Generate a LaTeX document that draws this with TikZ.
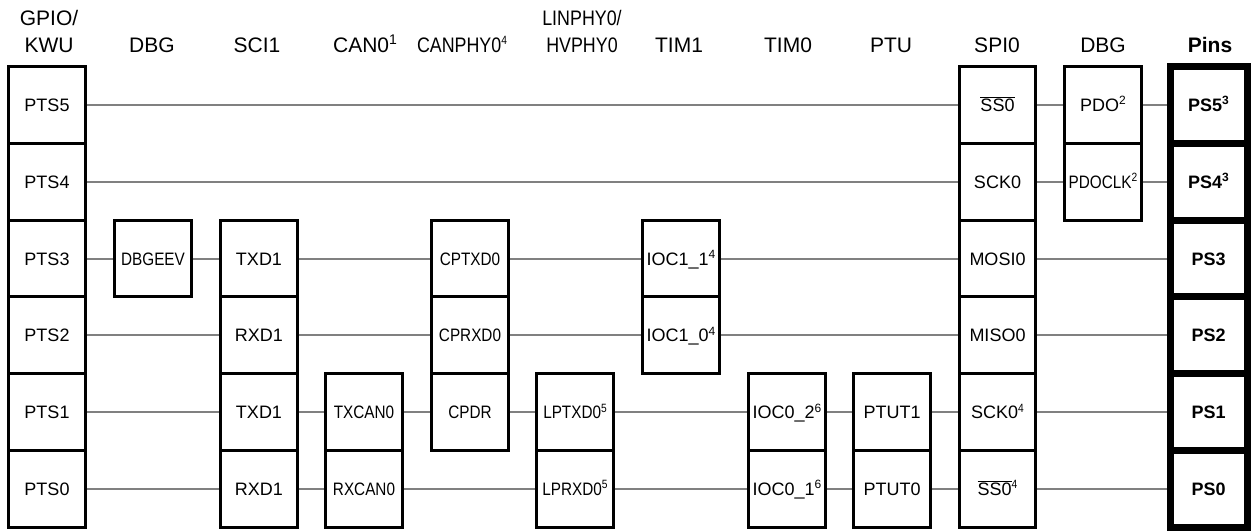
\documentclass[tikz,border=0pt]{standalone}
\usepackage{fontspec}
\setmainfont{Liberation Sans}
\newfontfamily\nrw[FakeStretch=0.85]{Liberation Sans}
\newcommand\cellsup[1]{\raisebox{6.5pt}{\fontsize{12}{12}\selectfont #1}}
\newcommand\hdsup[1]{\raisebox{8pt}{\fontsize{14}{14}\selectfont #1}}
\newcommand\ovl[1]{$\overline{\hbox{#1}}$}
\begin{document}
\begin{tikzpicture}[x=1pt,y=-1pt,
  cell/.style={draw, line width=3pt, minimum width=76.5pt, minimum height=76.8pt,
    inner sep=0pt, text height=13pt, text depth=0pt, font=\fontsize{18}{20}\selectfont},
  pin/.style={cell, line width=7pt, minimum width=77pt, font=\fontsize{18}{20}\selectfont\bfseries},
  hdr/.style={inner sep=0pt, anchor=base, font=\fontsize{21}{27}\selectfont},
  conn/.style={draw=gray, line width=2pt}]
\useasboundingbox (0,0) rectangle (1251,531);
% headers
\node[hdr] (hgpio) at (49,52) {\begin{tabular}[b]{@{}c@{}}GPIO/\\KWU\end{tabular}};
\node[hdr] (hdbga) at (152,52) {DBG};
\node[hdr] (hsci) at (257,52) {SCI1};
\node[hdr] (hcan) at (365,52) {CAN0\hdsup{1}};
\node[hdr] (hcanphy) at (462,52) {\nrw CANPHY0\raisebox{8pt}{\fontsize{12}{12}\selectfont 4}};
\node[hdr] (hlin) at (582,52) {\nrw\begin{tabular}[b]{@{}c@{}}LINPHY0/\\HVPHY0\end{tabular}};
\node[hdr] (htima) at (679,52) {TIM1};
\node[hdr] (htimb) at (788,52) {TIM0};
\node[hdr] (hptu) at (891,52) {PTU};
\node[hdr] (hspi) at (997,52) {SPI0};
\node[hdr] (hdbgb) at (1103,52) {DBG};
\node[hdr] (hpins) at (1210,52) {\bfseries Pins};
% GPIO column
\node[cell] (g5) at (47,104.9) {PTS5};
\node[cell] (g4) at (47,181.7) {PTS4};
\node[cell] (g3) at (47,258.5) {PTS3};
\node[cell] (g2) at (47,335.3) {PTS2};
\node[cell] (g1) at (47,412.1) {PTS1};
\node[cell] (g0) at (47,488.9) {PTS0};
% DBG
\node[cell] (d3) at (153,258.5) {\nrw DBGEEV};
% SCI1
\node[cell] (s3) at (259,258.5) {TXD1};
\node[cell] (s2) at (259,335.3) {RXD1};
\node[cell] (s1) at (259,412.1) {TXD1};
\node[cell] (s0) at (259,488.9) {RXD1};
% CAN0
\node[cell] (c1) at (364,412.1) {\nrw TXCAN0};
\node[cell] (c0) at (364,488.9) {\nrw RXCAN0};
% CANPHY0
\node[cell] (p3) at (470,258.5) {\nrw CPTXD0};
\node[cell] (p2) at (470,335.3) {\nrw CPRXD0};
\node[cell] (p1) at (470,412.1) {\nrw CPDR};
% LINPHY0
\node[cell] (l1) at (575,412.1) {\nrw LPTXD0\cellsup{5}};
\node[cell] (l0) at (575,488.9) {\nrw LPRXD0\cellsup{5}};
% TIM1
\node[cell] (t3) at (681,258.5) {IOC1\_1\cellsup{4}};
\node[cell] (t2) at (681,335.3) {IOC1\_0\cellsup{4}};
% TIM0
\node[cell] (u1) at (787,412.1) {IOC0\_2\cellsup{6}};
\node[cell] (u0) at (787,488.9) {IOC0\_1\cellsup{6}};
% PTU
\node[cell] (pt1) at (892,412.1) {PTUT1};
\node[cell] (pt0) at (892,488.9) {PTUT0};
% SPI0
\node[cell] (sp5) at (997.5,104.9) {\ovl{SS0}};
\node[cell] (sp4) at (997.5,181.7) {SCK0};
\node[cell] (sp3) at (997.5,258.5) {MOSI0};
\node[cell] (sp2) at (997.5,335.3) {MISO0};
\node[cell] (sp1) at (997.5,412.1) {SCK0\cellsup{\nrw 4}};
\node[cell] (sp0) at (997.5,488.9) {\ovl{SS0}\cellsup{\nrw 4}};
% DBG
\node[cell] (db5) at (1103,104.9) {PDO\cellsup{2}};
\node[cell] (db4) at (1103,181.7) {\nrw PDOCLK\cellsup{2}};
% Pins
\node[pin] (ps5) at (1208.5,104.9) {PS5\cellsup{3}};
\node[pin] (ps4) at (1208.5,181.7) {PS4\cellsup{3}};
\node[pin] (ps3) at (1208.5,258.5) {PS3};
\node[pin] (ps2) at (1208.5,335.3) {PS2};
\node[pin] (ps1) at (1208.5,412.1) {PS1};
\node[pin] (ps0) at (1208.5,488.9) {PS0};
% connectors
\draw[conn] (g5.east) -- (sp5.west);
\draw[conn] (sp5.east) -- (db5.west);
\draw[conn] (db5.east) -- (ps5.west);
\draw[conn] (g4.east) -- (sp4.west);
\draw[conn] (sp4.east) -- (db4.west);
\draw[conn] (db4.east) -- (ps4.west);
\draw[conn] (g3.east) -- (d3.west);
\draw[conn] (d3.east) -- (s3.west);
\draw[conn] (s3.east) -- (p3.west);
\draw[conn] (p3.east) -- (t3.west);
\draw[conn] (t3.east) -- (sp3.west);
\draw[conn] (sp3.east) -- (ps3.west);
\draw[conn] (g2.east) -- (s2.west);
\draw[conn] (s2.east) -- (p2.west);
\draw[conn] (p2.east) -- (t2.west);
\draw[conn] (t2.east) -- (sp2.west);
\draw[conn] (sp2.east) -- (ps2.west);
\draw[conn] (g1.east) -- (s1.west);
\draw[conn] (s1.east) -- (c1.west);
\draw[conn] (c1.east) -- (p1.west);
\draw[conn] (p1.east) -- (l1.west);
\draw[conn] (l1.east) -- (u1.west);
\draw[conn] (u1.east) -- (pt1.west);
\draw[conn] (pt1.east) -- (sp1.west);
\draw[conn] (sp1.east) -- (ps1.west);
\draw[conn] (g0.east) -- (s0.west);
\draw[conn] (s0.east) -- (c0.west);
\draw[conn] (c0.east) -- (l0.west);
\draw[conn] (l0.east) -- (u0.west);
\draw[conn] (u0.east) -- (pt0.west);
\draw[conn] (pt0.east) -- (sp0.west);
\draw[conn] (sp0.east) -- (ps0.west);
\end{tikzpicture}
\end{document}
